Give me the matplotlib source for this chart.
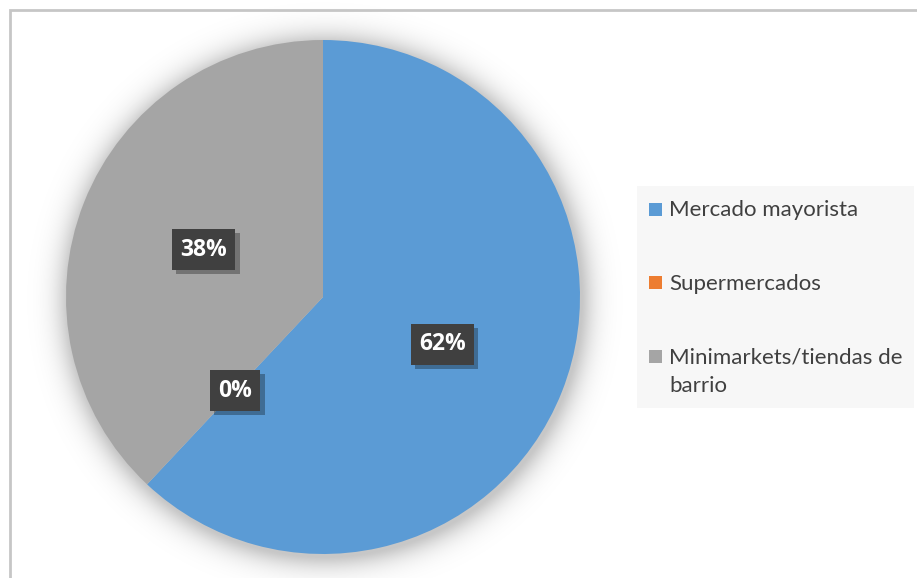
import numpy as np
import matplotlib
matplotlib.use("Agg")
import matplotlib.pyplot as plt
import matplotlib.patheffects as pe
from matplotlib.patches import Rectangle

categories = ["Mercado mayorista", "Supermercados", "Minimarkets/tiendas de\nbarrio"]
shares = [62, 0, 38]
colors = ["#5b9bd5", "#ed7d31", "#a5a5a5"]

W, H = 917, 578
fig = plt.figure(figsize=(W / 100, H / 100), dpi=100)
ax = fig.add_axes([0, 0, 1, 1])

cx, cy, r = 323, H - 297, 257

# soft shadow around the pie
yy, xx = np.mgrid[0:H, 0:W]
d = np.hypot(xx + 0.5 - cx - 2, (H - yy - 0.5) - cy + 3)
glow = np.where(d > r, 0.22 * np.exp(-((d - r) / 14.0) ** 1.3), 0.22)
rgba = np.zeros((H, W, 4))
rgba[..., 3] = glow
ax.imshow(rgba, extent=(0, W, 0, H), origin="upper", zorder=0, interpolation="bilinear")

wedges, _ = ax.pie(shares, colors=colors, startangle=90, counterclock=False,
                   center=(cx, cy), radius=r, frame=True,
                   wedgeprops=dict(linewidth=0))
for w in wedges:
    w.set_zorder(1)
ax.set_xlim(0, W)
ax.set_ylim(0, H)
ax.set_aspect("equal")
ax.axis("off")

# percentage labels in dark boxes with a drop shadow
start = 90.0
total = sum(shares)
for v in shares:
    sweep = 360.0 * v / total
    mid = np.deg2rad(start - sweep / 2)
    start -= sweep
    lx = cx + 0.5 * r * np.cos(mid)
    ly = cy + 0.5 * r * np.sin(mid)
    t = ax.text(lx, ly, f"{v}%", ha="center", va="center", fontsize=16.5,
                fontweight="bold", family="Open Sans", color="white", zorder=4,
                bbox=dict(boxstyle="square,pad=0.37", fc="#404040", ec="none"))
    t.get_bbox_patch().set_path_effects(
        [pe.SimplePatchShadow(offset=(3, -3), shadow_rgbFace="black", alpha=0.3), pe.Normal()])

# legend panel on the right
ax.add_patch(Rectangle((637, H - 408), 277, 222, fc="#f7f7f7", ec="none", zorder=2))
for i, (name, c) in enumerate(zip(categories, colors)):
    ry = H - (209 + 73.5 * i)
    ax.add_patch(Rectangle((649, ry - 6.5), 13, 13, fc=c, ec="none", zorder=3))
    ax.text(669, ry + 9, name, ha="left", va="top", fontsize=16, family="Lato",
            color="#404040", linespacing=1.55, zorder=3)

# chart border
fig.add_artist(Rectangle((10 / W, -0.1), 1.1, 1.1 - 10 / H, transform=fig.transFigure,
                         fill=False, ec="#c6c6c6", lw=2))

fig.savefig("out.png", dpi=100)
